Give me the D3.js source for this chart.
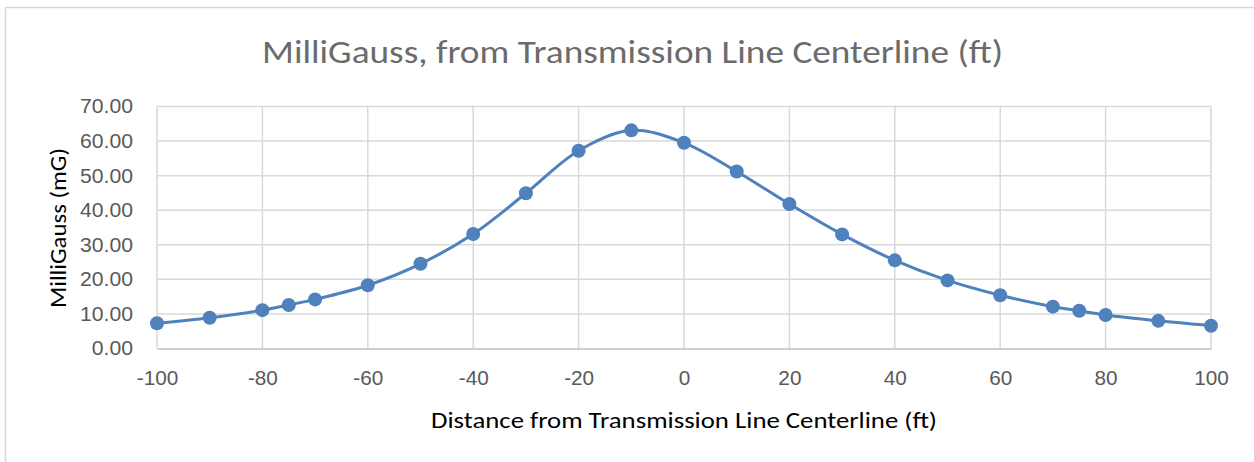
<!DOCTYPE html>
<html>
<head>
<meta charset="utf-8">
<script src="https://cdn.jsdelivr.net/npm/d3@7"></script>
<style>
  html, body { margin: 0; padding: 0; background: #fff; }
  svg { display: block; font-family: Carlito, "Open Sans", "Noto Sans", sans-serif; }
</style>
</head>
<body>
<svg id="chart" width="1254" height="462"></svg>
<script>
// Distance from centerline (ft) and the field read at each distance (mG).
const distances = [-100, -90, -80, -75, -70, -60, -50, -40, -30, -20, -10, 0, 10, 20, 30, 40, 50, 60, 70, 75, 80, 90, 100];
const milliGauss = [7.3, 8.9, 11.1, 12.6, 14.2, 18.3, 24.5, 33.1, 44.9, 57.2, 63.1, 59.5, 51.2, 41.8, 33.0, 25.5, 19.7, 15.4, 12.1, 10.9, 9.7, 8.0, 6.6];
const xTicks = [-100, -80, -60, -40, -20, 0, 20, 40, 60, 80, 100];
const yTicks = [0, 10, 20, 30, 40, 50, 60, 70];

const title = "MilliGauss, from Transmission Line Centerline (ft)";
const xTitle = "Distance from Transmission Line Centerline (ft)";
const yTitle = "MilliGauss (mG)";

(function () {
  const svg = d3.select("#chart");
  const plot = { left: 157, right: 1211, top: 106.5, bottom: 348.5 };

  const x = d3.scaleLinear().domain([-100, 100]).range([plot.left, plot.right]);
  const y = d3.scaleLinear().domain([0, 70]).range([plot.bottom, plot.top]);

  // Outer chart border (runs off the right and bottom edges).
  svg.append("rect")
    .attr("x", 5.5).attr("y", 7.5)
    .attr("width", 1260).attr("height", 470)
    .attr("fill", "#fff")
    .attr("stroke", "#d9d9d9")
    .attr("stroke-width", 1.5);

  // Fit a label to a measured width so the narrow Calibri look is kept.
  function fit(sel, w) {
    sel.attr("textLength", w).attr("lengthAdjust", "spacingAndGlyphs");
  }

  // Squeeze a group of labels by one common factor, taken from a sample label.
  function squeeze(texts, sampleIndex, targetW) {
    const nodes = texts.nodes();
    const k = targetW / nodes[sampleIndex].getComputedTextLength();
    nodes.forEach((n) => fit(d3.select(n), n.getComputedTextLength() * k));
  }

  fit(svg.append("text")
    .attr("x", 632.5).attr("y", 62.5)
    .attr("text-anchor", "middle")
    .attr("font-size", 33)
    .attr("fill", "#6b6b6b")
    .text(title), 741);

  // Gridlines.
  svg.append("g")
    .selectAll("line.h")
    .data(yTicks.slice(1))
    .join("line")
    .attr("x1", plot.left).attr("x2", plot.right)
    .attr("y1", (d) => y(d)).attr("y2", (d) => y(d))
    .attr("stroke", "#d9d9d9").attr("stroke-width", 1.5);

  svg.append("g")
    .selectAll("line.v")
    .data(xTicks)
    .join("line")
    .attr("x1", (d) => x(d)).attr("x2", (d) => x(d))
    .attr("y1", plot.top).attr("y2", plot.bottom)
    .attr("stroke", "#d9d9d9").attr("stroke-width", 1.5);

  // Axes with the lines hidden, just the labels.
  const yAxis = svg.append("g")
    .attr("transform", `translate(${plot.left},0)`)
    .call(d3.axisLeft(y).tickValues(yTicks).tickFormat(d3.format(".2f")).tickSize(0).tickPadding(24));
  yAxis.select(".domain").remove();
  const yText = yAxis.selectAll("text")
    .attr("font-size", 20)
    .attr("fill", "#595959")
    .attr("font-family", "inherit");
  squeeze(yText, yTicks.length - 1, 53);

  const xAxis = svg.append("g")
    .attr("transform", `translate(0,${plot.bottom})`)
    .call(d3.axisBottom(x).tickValues(xTicks).tickFormat((d) => String(d)).tickSize(0).tickPadding(22));
  xAxis.select(".domain")
    .attr("stroke", "#bfbfbf").attr("stroke-width", 1.5);
  const xText = xAxis.selectAll("text")
    .attr("font-size", 20)
    .attr("fill", "#595959")
    .attr("font-family", "inherit");
  squeeze(xText, 0, 41.5);

  // Axis titles.
  fit(svg.append("text")
    .attr("x", 684).attr("y", 428)
    .attr("text-anchor", "middle")
    .attr("font-size", 22)
    .attr("fill", "#000")
    .text(xTitle), 506);

  fit(svg.append("text")
    .attr("transform", "translate(66,228) rotate(-90)")
    .attr("text-anchor", "middle")
    .attr("font-size", 22)
    .attr("fill", "#000")
    .text(yTitle), 160);

  // Smoothed series line and markers.
  const pts = distances.map((d, i) => [d, milliGauss[i]]);
  const line = d3.line()
    .x((d) => x(d[0]))
    .y((d) => y(d[1]))
    .curve(d3.curveCatmullRom.alpha(0.5));

  svg.append("path")
    .datum(pts)
    .attr("d", line)
    .attr("fill", "none")
    .attr("stroke", "#4f81bd")
    .attr("stroke-width", 3);

  svg.append("g")
    .selectAll("circle")
    .data(pts)
    .join("circle")
    .attr("cx", (d) => x(d[0]))
    .attr("cy", (d) => y(d[1]))
    .attr("r", 7)
    .attr("fill", "#4f81bd");
})();
</script>
</body>
</html>
